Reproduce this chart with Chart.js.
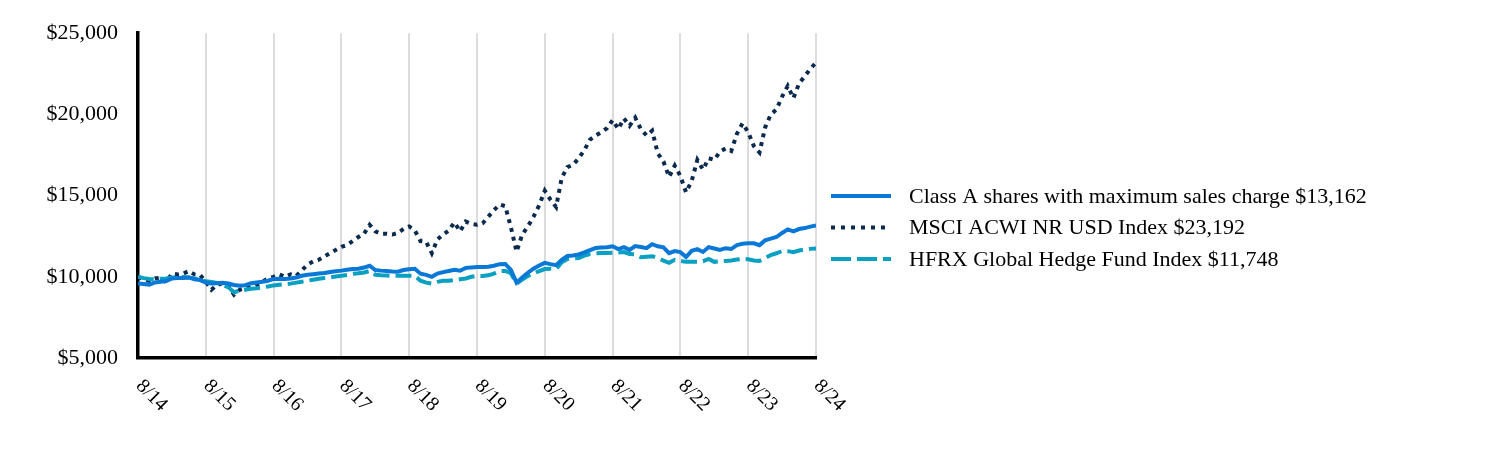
<!DOCTYPE html>
<html>
<head>
<meta charset="utf-8">
<script src="https://cdn.jsdelivr.net/npm/chart.js@4.4.1/dist/chart.umd.min.js"></script>
<style>
  html, body { margin: 0; padding: 0; background: #fff; }
  #wrap { position: relative; width: 1512px; height: 456px; }
</style>
</head>
<body>
<div id="wrap"><canvas id="growthChart"></canvas></div>
<script>
const tickLabels = ["8/14", "8/15", "8/16", "8/17", "8/18", "8/19", "8/20", "8/21", "8/22", "8/23", "8/24"];
const seriesNames = [
  "Class A shares with maximum sales charge $13,162",
  "MSCI ACWI NR USD Index $23,192",
  "HFRX Global Hedge Fund Index $11,748"
];
// monthly values, 8/14 .. 8/24 (121 points)
const classA = [
  9580, 9560, 9520, 9650, 9700, 9740, 9900, 9920, 9920, 9960, 9850, 9800,
  9650, 9590, 9600, 9640, 9590, 9500, 9450, 9480, 9600, 9650, 9690, 9760,
  9870, 9880, 9870, 9900, 9960, 10060, 10120, 10160, 10200, 10230, 10300, 10340,
  10380, 10440, 10480, 10500, 10570, 10680, 10420, 10380, 10360, 10330, 10310, 10420,
  10460, 10490, 10190, 10120, 10000, 10200, 10290, 10360, 10430, 10370, 10540, 10580,
  10600, 10600, 10620, 10680, 10780, 10790, 10430, 9640, 9950, 10250, 10500, 10700,
  10860, 10780, 10720, 11050, 11280, 11310, 11380, 11500, 11650, 11770, 11800, 11820,
  11880, 11710, 11830, 11660, 11890, 11830, 11760, 12010, 11880, 11820, 11460, 11580,
  11520, 11220, 11600, 11700, 11530, 11830, 11740, 11650, 11760, 11710, 11950, 12030,
  12070, 12060, 11950, 12250, 12350, 12450, 12700, 12920, 12800, 12940, 13000, 13090,
  13162
];
const msci = [
  10000, 9850, 9750, 9900, 9950, 9650, 10200, 10150, 10200, 10350, 10150, 10100,
  9700, 9200, 9500, 9600, 9450, 8900, 9200, 9300, 9350, 9500, 9700, 9900,
  10000, 10150, 10000, 10150, 10050, 10400, 10750, 10950, 11050, 11250, 11450, 11650,
  11850, 11950, 12200, 12450, 12650, 13200, 12800, 12650, 12650, 12600, 12700, 12950,
  13100, 12850, 12200, 12150, 11450, 12300, 12600, 12850, 13350, 12800, 13400, 13250,
  13200, 13300, 13700, 14100, 14450, 14350, 13050, 11550, 12600, 13100, 13700, 14400,
  15300, 14750, 14300, 16100, 16750, 16900, 17300, 17800, 18450, 18700, 18900, 19150,
  19650, 19100, 19750, 19300, 19800, 19100, 18700, 19000, 17600, 17100, 16150, 16850,
  16200, 15200, 15900, 17200, 16600, 17300, 17200, 17700, 17900, 17750, 18800, 19450,
  18900, 18050, 17650, 19200, 20000, 20300, 21100, 21750, 21000, 21900, 22350, 22800,
  23192
];
const hfrx = [
  10000, 9920, 9860, 9850, 9880, 9900, 9950, 9960, 9980, 9960, 9900, 9820,
  9720, 9680, 9620, 9500, 9350, 9050, 9150, 9200, 9260, 9300, 9350, 9400,
  9470, 9510, 9540, 9580, 9640, 9700, 9760, 9820, 9880, 9930, 9960, 10020,
  10060, 10110, 10180, 10220, 10270, 10360, 10130, 10100, 10080, 10060, 10060, 10060,
  10070, 10060, 9760, 9640, 9580, 9690, 9750, 9760, 9800, 9850, 9900, 10000,
  10060, 10050, 10090, 10200, 10350, 10360, 10220, 9580, 9830, 10050, 10200, 10350,
  10480, 10490, 10480, 10900, 11100, 11130, 11160, 11300, 11400, 11440, 11460, 11470,
  11480, 11500, 11520, 11400, 11380, 11200, 11240, 11270, 11160, 11000, 10860, 11050,
  10980, 10920, 10920, 10920, 10960, 11100, 10920, 10950, 10980, 11000, 11060, 11100,
  11080, 11000, 10980, 11150, 11340, 11450, 11590, 11580, 11520, 11620, 11680, 11720,
  11748
];

const FONT = "'Liberation Serif', 'Times New Roman', serif";
const toPoints = arr => arr.map((v, i) => ({ x: i, y: v }));

const extras = {
  id: "extras",
  afterDraw(chart) {
    const ctx = chart.ctx;
    const xs = chart.scales.x;
    const area = chart.chartArea;
    ctx.save();
    ctx.fillStyle = "#000";
    // rotated year labels
    ctx.font = "20px " + FONT;
    tickLabels.forEach((lbl, k) => {
      const px = xs.getPixelForValue(k * 12);
      ctx.save();
      ctx.translate(px + 1, area.bottom + 25);
      ctx.rotate(Math.PI / 4);
      ctx.textAlign = "left";
      ctx.textBaseline = "middle";
      ctx.fillText(lbl, 0, 0);
      ctx.restore();
    });
    // legend
    ctx.font = "22px " + FONT;
    const lx = area.right + 15;
    chart.data.datasets.forEach((ds, k) => {
      const ly = 196 + k * 31.5;
      ctx.save();
      ctx.strokeStyle = ds.borderColor;
      ctx.lineWidth = 4;
      ctx.setLineDash(ds.legendDash || []);
      ctx.beginPath();
      ctx.moveTo(lx, ly);
      ctx.lineTo(lx + 60, ly);
      ctx.stroke();
      ctx.restore();
      ctx.textAlign = "left";
      ctx.textBaseline = "middle";
      ctx.fillText(ds.label, lx + 78, ly + 1);
    });
    ctx.restore();
  }
};

new Chart(document.getElementById("growthChart"), {
  type: "line",
  data: {
    datasets: [
      { label: seriesNames[0], data: toPoints(classA), borderColor: "#0a78d6", borderWidth: 4, pointRadius: 0, tension: 0, order: 1 },
      { label: seriesNames[1], data: toPoints(msci), borderColor: "#0c2a4e", borderWidth: 4, borderDash: [4, 5], legendDash: [4, 6], pointRadius: 0, tension: 0, order: 3 },
      { label: seriesNames[2], data: toPoints(hfrx), borderColor: "#0aa0c2", borderWidth: 4, borderDash: [16, 6], legendDash: [20, 6], pointRadius: 0, tension: 0, order: 2 }
    ]
  },
  options: {
    responsive: true,
    maintainAspectRatio: false,
    animation: false,
    devicePixelRatio: 1,
    layout: { padding: { left: 0, top: 30, right: 696, bottom: 0 } },
    plugins: { legend: { display: false }, tooltip: { enabled: false } },
    scales: {
      x: {
        type: "linear",
        min: 0,
        max: 120,
        ticks: { stepSize: 12, display: false },
        grid: { color: "#dcdcdc", lineWidth: 2, drawTicks: false },
        border: { color: "#000", width: 3.5 },
        afterFit: s => { s.height = 98; }
      },
      y: {
        min: 5000,
        max: 25000,
        ticks: {
          stepSize: 5000,
          padding: 20,
          color: "#000",
          font: { family: FONT, size: 22 },
          callback: v => "$" + v.toLocaleString("en-US")
        },
        grid: { display: false, drawTicks: false },
        border: { color: "#000", width: 3.5 },
        afterFit: s => { s.width = 138; }
      }
    }
  },
  plugins: [extras]
});
</script>
</body>
</html>
